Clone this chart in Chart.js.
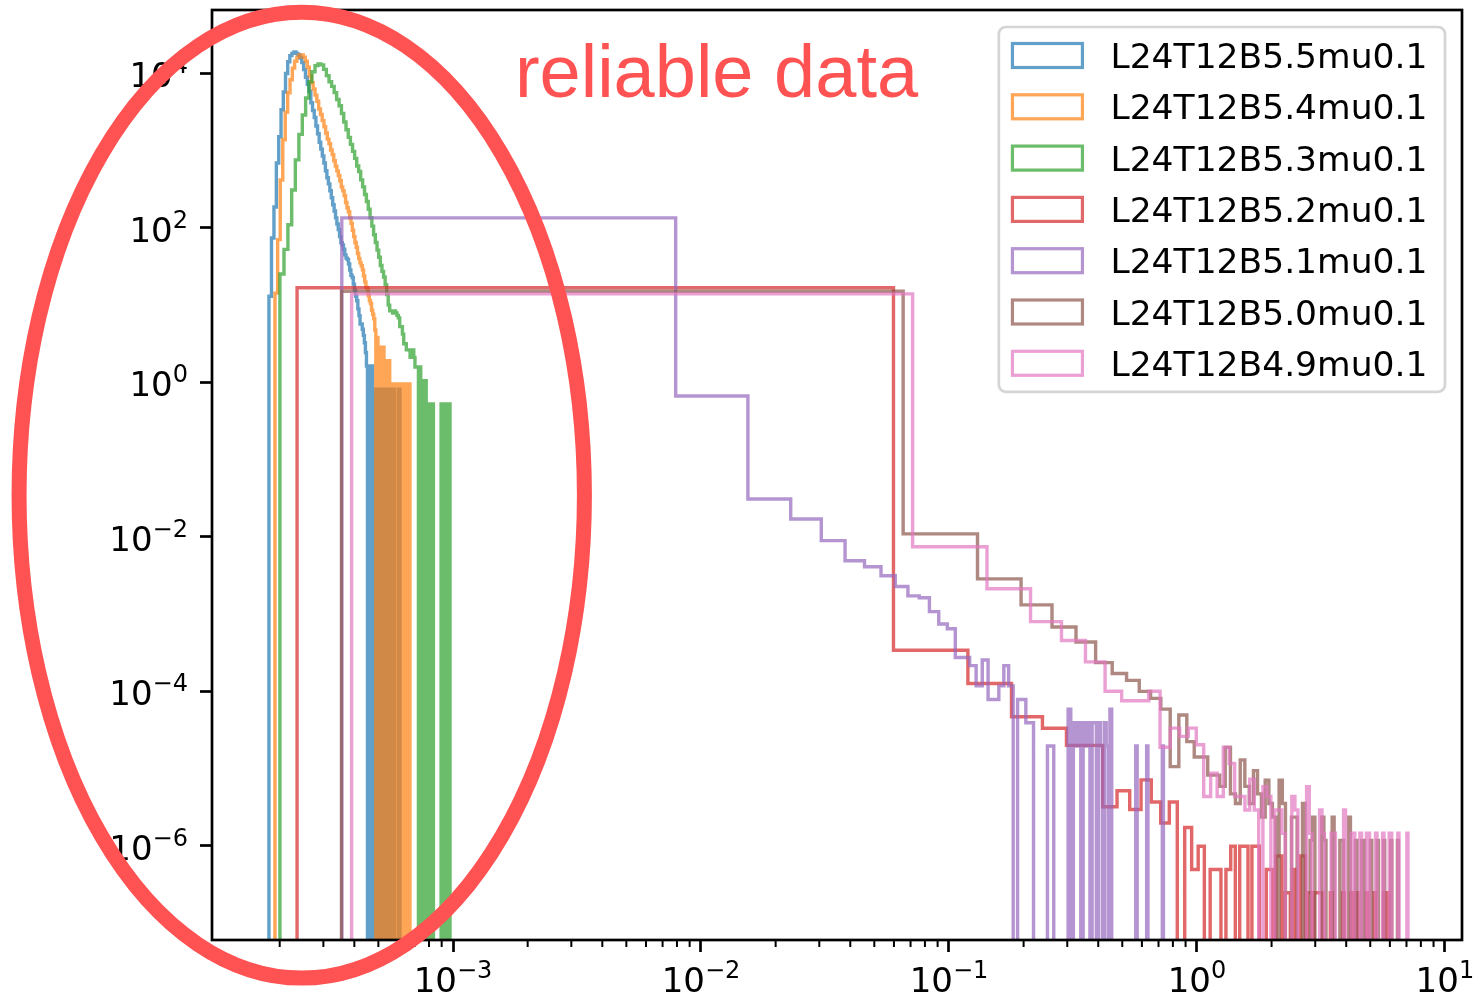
<!DOCTYPE html>
<html lang="en">
<head>
<meta charset="UTF-8">
<title>L24T12 mu0.1 histograms</title>
<script src="https://cdn.jsdelivr.net/npm/chart.js@4"></script>
<style>
  html, body { margin: 0; padding: 0; background: #fff; }
  .chart-box { width: 1476px; height: 997px; position: relative; }
</style>
</head>
<body>
<div class="chart-box"><canvas id="histChart"></canvas></div>
<script>
// one histogram per beta, linear bins, drawn as step outlines on log-log axes
const seriesLabels = ['L24T12B5.5mu0.1', 'L24T12B5.4mu0.1', 'L24T12B5.3mu0.1', 'L24T12B5.2mu0.1',
                      'L24T12B5.1mu0.1', 'L24T12B5.0mu0.1', 'L24T12B4.9mu0.1'];
const seriesColors = ['#1f77b4', '#ff7f0e', '#2ca02c', '#d62728', '#9467bd', '#8c564b', '#e377c2'];

// first bin edge and bin width of each histogram
const binStart = [1.81e-4, 1.914e-4, 2.004e-4, 2.35e-4, 3.56e-4, 3.55e-4, 3.90e-4];
const binWidth = [4.3e-6, 4.79e-6, 7.72e-6, 0.0595, 7.55e-3, 0.0650, 0.07097];
// density of one entry (1 / (N * width))
const countUnit = [0.81, 0.95, 0.525, 2.45e-7, 1.95e-5, 1.17e-6, 1.445e-6];

const counts55 = [
  16, 91, 229, 851, 1862, 4169, 7079, 12300, 17400, 20900,
  22400, 23400, 22400, 21400, 19500, 17000, 13800, 11000, 8910, 7240,
  5130, 4070, 3310, 2570, 2040, 1580, 1290, 1050, 851, 676,
  550, 457, 372, 302, 245, 204, 166, 138, 117, 95,
  79, 74, 65, 55, 50, 48, 42, 35, 30, 28,
  23, 19, 16, 14, 11, 9, 7, 7, 6, 5,
  4, 3, 2, 0, 2, 0, 1, 2, 0, 1,
  1, 0, 1, 1, 0, 1, 0, 1, 1, 0,
  1, 0, 1, 1, 0, 1, 0, 1, 0, 1,
  1, 0, 1, 0, 0, 0, 0, 0, 1, 1];
const counts54 = [
  15, 74, 437, 1450, 3310, 5890, 8710, 12300, 15100, 17000,
  18200, 18200, 17000, 15100, 12600, 9770, 7940, 6610, 5500, 4570,
  3630, 3090, 2570, 2140, 1780, 1480, 1290, 1070, 933, 776,
  661, 575, 501, 427, 355, 316, 275, 224, 191, 170,
  141, 120, 98, 81, 68, 59, 49, 42, 37, 34,
  30, 25, 21, 18, 17, 14, 12, 11, 9, 8,
  7, 5, 0, 4, 3, 0, 3, 2, 0, 3,
  2, 0, 2, 1, 0, 2, 1, 0, 1, 1,
  0, 1, 1, 0, 0, 0, 1, 1, 0, 1,
  0, 1, 0, 1, 1, 0, 1, 0, 1, 1];
const counts53 = [
  48, 100, 209, 589, 1445, 3090, 5500, 9120, 14800, 20000,
  24000, 25100, 24500, 21400, 17800, 14800, 12900, 10700, 8710, 7240,
  5750, 4470, 3550, 2820, 2290, 1860, 1510, 1200, 1020, 794,
  646, 513, 417, 331, 257, 200, 155, 123, 98, 79,
  62, 52, 44, 35, 26, 19, 16, 16, 15, 16,
  15, 14, 13, 10, 10, 8, 6, 6, 5, 5,
  5, 4, 4, 5, 4, 3, 3, 3, 0, 3,
  0, 2, 1, 0, 2, 1, 0, 1, 1, 0,
  1, 1, 0, 0, 0, 0, 0, 0, 0, 0,
  1, 0, 1, 1, 0, 1, 1, 0, 1, 1];
const counts52 = [
  68400000, 1380, 513, 190, 135, 81, 81, 13, 21, 12,
  29, 15, 8, 15, 0, 7, 2, 4, 0, 2,
  2, 0, 2, 4, 0, 4, 4, 0, 4, 4,
  0, 0, 2, 2, 0, 3, 3, 0, 1, 1,
  0, 2, 0, 0, 3, 3, 0, 1, 1, 0,
  1, 1, 1, 1, 0, 0, 0, 0, 1, 0,
  0, 0, 0, 0, 0, 1, 0, 0, 0, 0,
  1, 1, 0, 1, 1, 0, 0, 0, 0, 0,
  0, 1, 0, 0, 0, 0, 0, 1, 0, 0,
  0, 0, 0, 0, 0, 1, 1, 0, 0, 1];
const counts51 = [
  6900000, 34000, 1580, 870, 457, 251, 209, 160, 116, 88,
  83, 55, 38, 33, 14, 14, 11, 6, 13, 4,
  4, 6, 11, 6, 0, 4, 4, 2, 2, 0,
  0, 0, 0, 1, 1, 0, 0, 0, 0, 0,
  3, 0, 2, 1, 2, 0, 2, 1, 2, 0,
  2, 2, 0, 2, 1, 0, 2, 1, 0, 3,
  0, 0, 0, 0, 0, 0, 0, 0, 0, 0,
  0, 0, 0, 0, 0, 1, 0, 0, 0, 0,
  0, 0, 0, 1, 0, 0, 0, 0, 0, 0,
  0, 0, 0, 0, 0, 0, 1, 0, 0, 0];
const counts50 = [
  12900000, 9300, 2430, 1120, 580, 370, 200, 145, 118, 85,
  69, 50, 9, 42, 19, 12, 12, 7, 7, 5,
  16, 4, 3, 11, 5, 3, 8, 4, 2, 6,
  3, 2, 0, 6, 3, 0, 0, 2, 2, 0,
  0, 3, 0, 0, 1, 2, 0, 0, 0, 2,
  1, 0, 0, 0, 2, 0, 0, 0, 1, 1,
  0, 0, 0, 2, 0, 0, 0, 1, 0, 0,
  0, 1, 1, 0, 0, 0, 0, 1, 0, 0,
  0, 0, 1, 0, 0, 0, 0, 1, 0, 0,
  0, 0, 0, 1, 0, 0, 0, 0, 0, 1];
const counts49 = [
  9660000, 5130, 1470, 550, 313, 166, 69, 52, 52, 69,
  13, 23, 18, 23, 14, 3, 6, 3, 13, 8,
  3, 3, 2, 5, 2, 0, 4, 3, 0, 2,
  2, 1, 0, 0, 3, 2, 0, 0, 0, 4,
  1, 0, 0, 0, 2, 1, 0, 0, 0, 1,
  1, 0, 0, 0, 0, 2, 0, 0, 0, 1,
  1, 0, 0, 0, 1, 0, 0, 0, 1, 1,
  0, 0, 0, 0, 1, 0, 0, 0, 0, 1,
  0, 0, 0, 0, 1, 1, 0, 0, 0, 0,
  0, 1, 0, 0, 0, 0, 0, 0, 0, 1];
const seriesCounts = [counts55, counts54, counts53, counts52, counts51, counts50, counts49];

// decade ticks, labelled 10^p
const xTickPowers = [-3, -2, -1, 0, 1];
const yTickPowers = [-6, -4, -2, 0, 2, 4];

const X_MIN = Math.pow(10, -3.972), X_MAX = Math.pow(10, 1.069);
const Y_MIN = Math.pow(10, -7.195), Y_MAX = Math.pow(10, 4.82);

// empty bins sit below the y range so the outline drops out of the axes
const EMPTY_BIN = 1e-9;

// minor x ticks: 2..9 in every decade
const xMinorTicks = [];
for (let e = -4; e <= 1; e++) {
  for (let m = 2; m <= 9; m++) {
    const v = m * Math.pow(10, e);
    if (v > X_MIN && v < X_MAX) xMinorTicks.push(v);
  }
}

// red callout: ellipse round the low-x peaks and its caption (data coords)
const calloutCenter = [2.454e-4, 0.0345];
const calloutSpanDecades = [1.14, 6.253];
const calloutText = 'reliable data';
const calloutTextAt = [1.777e-3, 5000];

const FONT = '"DejaVu Sans", sans-serif';

function withAlpha(hex, a) {
  const n = parseInt(hex.slice(1), 16);
  return `rgba(${(n >> 16) & 255}, ${(n >> 8) & 255}, ${n & 255}, ${a})`;
}

// outline of a histogram: up at the first edge, across each bin, down at the last edge
function stepPoints(start, width, counts, unit) {
  const dens = c => (c > 0 ? c * unit : EMPTY_BIN);
  const pts = [{ x: start, y: EMPTY_BIN }];
  counts.forEach((c, i) => pts.push({ x: start + i * width, y: dens(c) }));
  const end = start + counts.length * width;
  pts.push({ x: end, y: dens(counts[counts.length - 1]) });
  pts.push({ x: end, y: EMPTY_BIN });
  return pts;
}

// "10" with a raised exponent; (x, y) is the anchor and the baseline of "10"
function drawPowerLabel(ctx, p, x, y, align) {
  const base = '10';
  const exp = p < 0 ? '\u2212' + (-p) : String(p);
  ctx.font = `34px ${FONT}`;
  const wb = ctx.measureText(base).width;
  ctx.font = `24px ${FONT}`;
  const we = ctx.measureText(exp).width;
  const total = wb + we;
  const x0 = align === 'center' ? x - total / 2 : x - total;
  ctx.textAlign = 'left';
  ctx.textBaseline = 'alphabetic';
  ctx.fillStyle = '#000';
  ctx.font = `34px ${FONT}`;
  ctx.fillText(base, x0, y);
  ctx.font = `24px ${FONT}`;
  ctx.fillText(exp, x0 + wb, y - 14);
}

const datasets = seriesLabels.map((label, i) => ({
  label: label,
  data: stepPoints(binStart[i], binWidth[i], seriesCounts[i], countUnit[i]),
  borderColor: withAlpha(seriesColors[i], 0.7),
  borderWidth: 3.4,
  borderJoinStyle: 'miter',
  borderCapStyle: 'butt',
  pointRadius: 0,
  fill: false,
  stepped: 'before',
  tension: 0,
  clip: 0,
  order: seriesLabels.length - i   // later series on top
}));

const framePlugin = {
  id: 'frameAndLegend',
  afterDatasetsDraw(chart) {
    const { ctx, chartArea: a, scales } = chart;
    ctx.save();
    // minor ticks on the x axis
    ctx.strokeStyle = '#000';
    ctx.lineWidth = 2;
    xMinorTicks.forEach(v => {
      const px = scales.x.getPixelForValue(v);
      ctx.beginPath();
      ctx.moveTo(px, a.bottom);
      ctx.lineTo(px, a.bottom + 7);
      ctx.stroke();
    });
    // axes box
    ctx.lineWidth = 2.7;
    ctx.strokeRect(a.left, a.top, a.right - a.left, a.bottom - a.top);

    // tick labels
    xTickPowers.forEach(p => {
      drawPowerLabel(ctx, p, scales.x.getPixelForValue(Math.pow(10, p)), a.bottom + 52, 'center');
    });
    yTickPowers.forEach(p => {
      drawPowerLabel(ctx, p, a.left - 24, scales.y.getPixelForValue(Math.pow(10, p)) + 14, 'right');
    });

    // legend, upper right
    ctx.font = `34.5px ${FONT}`;
    const textW = Math.max(...chart.data.datasets.map(d => ctx.measureText(d.label).width));
    const pad = 13.6, handleW = 70, handleH = 24, gap = 28, rowStep = 51.3;
    const right = a.right - 17, top = a.top + 17;
    const boxW = pad * 2 + handleW + gap + textW + 4;
    const boxH = 28.5 * 2 + rowStep * (chart.data.datasets.length - 1);
    const left = right - boxW;
    ctx.beginPath();
    ctx.roundRect(left, top, boxW, boxH, 7);
    ctx.fillStyle = 'rgba(255,255,255,0.8)';
    ctx.fill();
    ctx.strokeStyle = '#d5d5d5';
    ctx.lineWidth = 2.7;
    ctx.stroke();
    chart.data.datasets.forEach((d, i) => {
      const cy = top + 28.5 + i * rowStep;
      ctx.strokeStyle = d.borderColor;
      ctx.lineWidth = 3.2;
      ctx.strokeRect(left + pad, cy - handleH / 2, handleW, handleH);
      ctx.fillStyle = '#000';
      ctx.textBaseline = 'alphabetic';
      ctx.textAlign = 'left';
      ctx.fillText(d.label, left + pad + handleW + gap, cy + 12.5);
    });
    ctx.restore();
  },
  afterDraw(chart) {
    const { ctx, scales } = chart;
    const cx = scales.x.getPixelForValue(calloutCenter[0]);
    const cy = scales.y.getPixelForValue(calloutCenter[1]);
    const rx = scales.x.getPixelForValue(calloutCenter[0] * Math.pow(10, calloutSpanDecades[0])) - cx;
    const ry = cy - scales.y.getPixelForValue(calloutCenter[1] * Math.pow(10, calloutSpanDecades[1]));
    ctx.save();
    ctx.strokeStyle = '#ff5252';
    ctx.lineWidth = 15;
    ctx.beginPath();
    ctx.ellipse(cx, cy, rx, ry, 0, 0, Math.PI * 2);
    ctx.stroke();
    ctx.fillStyle = '#ff5252';
    ctx.font = '74px "Liberation Sans", Arial, sans-serif';
    ctx.textBaseline = 'alphabetic';
    ctx.textAlign = 'left';
    ctx.fillText(calloutText,
      scales.x.getPixelForValue(calloutTextAt[0]),
      scales.y.getPixelForValue(calloutTextAt[1]));
    ctx.restore();
  }
};

new Chart(document.getElementById('histChart'), {
  type: 'line',
  data: { datasets: datasets },
  options: {
    responsive: true,
    maintainAspectRatio: false,
    animation: false,
    events: [],
    layout: { padding: { top: 10, right: 14, left: 0, bottom: 0 } },
    plugins: { legend: { display: false }, tooltip: { enabled: false } },
    scales: {
      x: {
        type: 'logarithmic',
        position: 'bottom',
        min: X_MIN,
        max: X_MAX,
        border: { display: false },
        grid: { drawOnChartArea: false, drawTicks: true, tickLength: 12, tickWidth: 2.7, tickColor: '#000' },
        ticks: { display: false, autoSkip: false },
        afterBuildTicks: s => { s.ticks = xTickPowers.map(p => ({ value: Math.pow(10, p) })); },
        afterFit: s => { s.height = 57; s.paddingLeft = 0; s.paddingRight = 0; }
      },
      y: {
        type: 'logarithmic',
        min: Y_MIN,
        max: Y_MAX,
        border: { display: false },
        grid: { drawOnChartArea: false, drawTicks: true, tickLength: 12, tickWidth: 2.7, tickColor: '#000' },
        ticks: { display: false, autoSkip: false },
        afterBuildTicks: s => { s.ticks = yTickPowers.map(p => ({ value: Math.pow(10, p) })); },
        afterFit: s => { s.width = 212; s.paddingTop = 0; s.paddingBottom = 0; }
      }
    }
  },
  plugins: [framePlugin]
});
</script>
</body>
</html>
